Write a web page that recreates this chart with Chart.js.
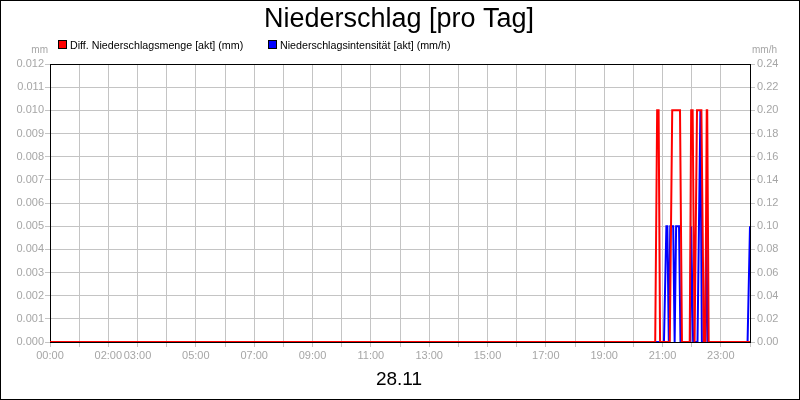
<!DOCTYPE html>
<html>
<head>
<meta charset="utf-8">
<script src="https://cdn.jsdelivr.net/npm/chart.js@4"></script>
<style>
  html, body { margin: 0; padding: 0; background: #fff; }
  #wrap { width: 800px; height: 400px; }
</style>
</head>
<body>
<div id="wrap"><canvas id="c" width="800" height="400"></canvas></div>
<script>
// ---- data ----
const chartTitle = 'Niederschlag [pro Tag]';
const dateLabel = '28.11';
const seriesNames = ['Diff. Niederschlagsmenge [akt] (mm)', 'Niederschlagsintensität [akt] (mm/h)'];

const redTimes  = ['00:00','20:45','20:49','20:52','20:55','21:15','21:20','21:36','21:40','21:56','21:59','22:02','22:06','22:11','22:20','22:25','22:28','22:31','22:32','22:35','24:00'];
const redValues = [0,      0,      0.01,   0.01,   0,      0,      0.01,   0.01,   0,      0,      0.01,   0.01,   0,      0.01,   0.01,   0,      0,      0.01,   0.01,   0,      0];

const blueTimes  = ['00:00','21:03','21:08','21:10','21:13','21:16','21:22','21:25','21:28','21:34','21:37','21:57','21:59','22:00','22:03','22:12','22:18','22:21','22:28','22:30','22:33','23:55','24:00'];
const blueValues = [0,      0,      0.1,    0.1,    0,      0.1,    0.1,    0,      0.1,    0.1,    0,      0,      0.1,    0.1,    0,      0,      0.2,    0,      0,      0.1,    0,      0,      0.1];

const xTickLabels = ['00:00','','02:00','03:00','','05:00','','07:00','','09:00','','11:00','','13:00','','15:00','','17:00','','19:00','','21:00','','23:00',''];
const leftTicks  = ['0.000','0.001','0.002','0.003','0.004','0.005','0.006','0.007','0.008','0.009','0.010','0.011','0.012'];
const rightTicks = ['0.00','0.02','0.04','0.06','0.08','0.10','0.12','0.14','0.16','0.18','0.20','0.22','0.24'];

// ---- helpers ----
function toHours(s) { const p = s.split(':'); return Number(p[0]) + Number(p[1]) / 60; }
function pts(times, vals) { return times.map((t, i) => ({ x: toHours(t), y: vals[i] })); }

const FONT = '"Liberation Sans", Arial, Helvetica, sans-serif';
const GRID = '#c4c4c4';
const LABEL = '#a6a6a6';

const decor = {
  id: 'decor',
  beforeDraw(chart) {
    const ctx = chart.ctx;
    ctx.save();
    ctx.fillStyle = '#fff';
    ctx.fillRect(0, 0, chart.width, chart.height);
    ctx.restore();
  },
  beforeDatasetsDraw(chart) {
    const a = chart.chartArea, ctx = chart.ctx;
    ctx.save();
    ctx.strokeStyle = '#000';
    ctx.lineWidth = 1;
    ctx.strokeRect(Math.round(a.left) + 0.5, Math.round(a.top) + 0.5, Math.round(a.right - a.left), Math.round(a.bottom - a.top));
    ctx.restore();
  },
  afterDraw(chart) {
    const ctx = chart.ctx;
    ctx.save();
    // title
    ctx.fillStyle = '#000';
    ctx.textBaseline = 'alphabetic';
    ctx.textAlign = 'center';
    ctx.font = '27px ' + FONT;
    ctx.fillText(chartTitle, 399, 26.5);
    // date label
    ctx.font = '19px ' + FONT;
    ctx.fillText(dateLabel, 399, 384.5);
    // legend
    ctx.textAlign = 'left';
    ctx.font = '10.7px ' + FONT;
    const items = [[58, 70, '#ff0000'], [268, 280, '#0000ff']];
    items.forEach((it, i) => {
      ctx.fillStyle = it[2];
      ctx.fillRect(it[0] + 0.5, 40.5, 8, 8);
      ctx.strokeStyle = '#000';
      ctx.lineWidth = 1;
      ctx.strokeRect(it[0] + 0.5, 40.5, 8, 8);
      ctx.fillStyle = '#000';
      ctx.fillText(seriesNames[i], it[1], 48.5);
    });
    // unit labels
    ctx.fillStyle = LABEL;
    ctx.font = '10px ' + FONT;
    ctx.textAlign = 'right';
    ctx.fillText('mm', 48, 52.5);
    ctx.textAlign = 'left';
    ctx.fillText('mm/h', 752, 52.5);
    // outer frame
    ctx.strokeStyle = '#000';
    ctx.lineWidth = 1;
    ctx.strokeRect(0.5, 0.5, chart.width - 1, chart.height - 1);
    ctx.restore();
  }
};

new Chart(document.getElementById('c'), {
  type: 'line',
  data: {
    datasets: [
      { label: seriesNames[0], data: pts(redTimes, redValues), borderColor: '#ff0000', backgroundColor: '#ff0000', borderWidth: 2, pointRadius: 0, tension: 0, yAxisID: 'y', xAxisID: 'x' },
      { label: seriesNames[1], data: pts(blueTimes, blueValues), borderColor: '#0000ff', backgroundColor: '#0000ff', borderWidth: 2, pointRadius: 0, tension: 0, yAxisID: 'y1', xAxisID: 'x' }
    ]
  },
  options: {
    responsive: false,
    animation: false,
    devicePixelRatio: 1,
    layout: { padding: { top: 64, left: 0, right: 0, bottom: 0 } },
    plugins: { legend: { display: false }, title: { display: false }, tooltip: { enabled: false } },
    scales: {
      x: {
        type: 'linear', min: 0, max: 24, offset: false,
        afterFit(s) { s.height = 58; },
        grid: { color: GRID, tickColor: GRID, tickLength: 5, lineWidth: 1 },
        border: { display: false },
        ticks: {
          stepSize: 1, autoSkip: false, maxRotation: 0, minRotation: 0, padding: 2,
          color: LABEL, font: { family: FONT, size: 11 },
          callback: (v) => xTickLabels[Math.round(v)] ?? ''
        }
      },
      y: {
        type: 'linear', position: 'left', min: 0, max: 0.012,
        afterFit(s) { s.width = 50; },
        grid: { color: GRID, tickColor: GRID, tickLength: 5, lineWidth: 1 },
        border: { display: false },
        ticks: {
          stepSize: 0.001, autoSkip: false, padding: 1,
          color: LABEL, font: { family: FONT, size: 11 },
          callback: (v) => leftTicks[Math.round(v / 0.001)] ?? ''
        }
      },
      y1: {
        type: 'linear', position: 'right', min: 0, max: 0.24,
        afterFit(s) { s.width = 50; },
        grid: { drawOnChartArea: false, color: GRID, tickColor: GRID, tickLength: 5, lineWidth: 1 },
        border: { display: false },
        ticks: {
          stepSize: 0.02, autoSkip: false, padding: 2,
          color: LABEL, font: { family: FONT, size: 11 },
          callback: (v) => rightTicks[Math.round(v / 0.02)] ?? ''
        }
      }
    }
  },
  plugins: [decor]
});
</script>
</body>
</html>
